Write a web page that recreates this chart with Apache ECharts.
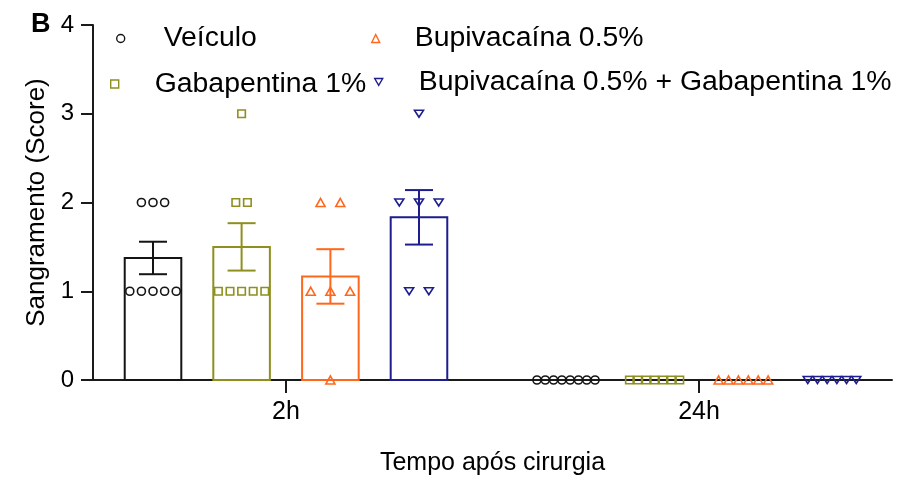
<!DOCTYPE html>
<html>
<head>
<meta charset="utf-8">
<script src="https://cdn.jsdelivr.net/npm/echarts@6/dist/echarts.min.js"></script>
<style>
  html, body { margin: 0; padding: 0; background: #fff; }
  #chart { width: 922px; height: 483px; }
</style>
</head>
<body>
<div id="chart"></div>
<script>
// Time points after surgery (x categories)
const timePoints = ['2h', '24h'];

// Treatment groups, in bar order
const groupNames = ['Veículo', 'Gabapentina 1%', 'Bupivacaína 0.5%', 'Bupivacaína 0.5% + Gabapentina 1%'];

// Individual bleeding scores per animal: [2h, 24h]
const veiculoScores = [[2, 2, 2, 1, 1, 1, 1, 1], [0, 0, 0, 0, 0, 0, 0, 0]];
const gabapentinaScores = [[3, 2, 2, 1, 1, 1, 1, 1], [0, 0, 0, 0, 0, 0, 0]];
const bupivacainaScores = [[2, 2, 1, 1, 1, 0], [0, 0, 0, 0, 0, 0]];
const associacaoScores = [[3, 2, 2, 2, 1, 1], [0, 0, 0, 0, 0, 0]];

// Group means and standard errors: [2h, 24h]
const veiculoMean = [1.375, 0];
const veiculoSem = [0.183, 0];
const gabapentinaMean = [1.5, 0];
const gabapentinaSem = [0.267, 0];
const bupivacainaMean = [1.167, 0];
const bupivacainaSem = [0.307, 0];
const associacaoMean = [1.833, 0];
const associacaoSem = [0.307, 0];

// Y axis ticks
const yTicks = [0, 1, 2, 3, 4];

const scores = [veiculoScores, gabapentinaScores, bupivacainaScores, associacaoScores];
const means = [veiculoMean, gabapentinaMean, bupivacainaMean, associacaoMean];
const sems = [veiculoSem, gabapentinaSem, bupivacainaSem, associacaoSem];

// ---- styling / layout ----
const FONT = 'Liberation Sans, Arial, Helvetica, sans-serif';
const colors = ['#141414', '#8f8f1f', '#ff671c', '#1d1d8f'];
const slot = [-0.322, -0.1075, 0.1075, 0.322];   // bar offset within a time group (axis units)
const barW = 0.137;                              // bar width (axis units)
const spread = [[11.6, 8.3], [11.6, 8.4], [19.7, 9.9], [19.7, 9.7]]; // px between side-by-side dots
const symbols = ['circle', 'rect', 'triangle', 'path://M0,0L10,0L5,8.66Z'];
const symSizes = [8, 7.5, [9, 8], [9, 8]];

function pointData(vals2, k) {
  const out = [];
  vals2.forEach((vals, g) => {
    const levels = {};
    vals.forEach(v => { (levels[v] = levels[v] || []).push(v); });
    Object.keys(levels).forEach(lv => {
      const arr = levels[lv];
      const n = arr.length;
      arr.forEach((v, i) => {
        out.push({
          value: [g + slot[k], v],
          symbolOffset: [(i - (n - 1) / 2) * spread[k][g], 0]
        });
      });
    });
  });
  return out;
}

const series = [];

// Bars (white fill, coloured outline)
groupNames.forEach((name, k) => {
  series.push({
    type: 'custom',
    z: 2,
    silent: true,
    data: means[k].map((m, g) => [g + slot[k], m]),
    renderItem: (params, api) => {
      const x = api.value(0), m = api.value(1);
      if (!m) return null;
      const p0 = api.coord([x - barW / 2, m]);
      const p1 = api.coord([x + barW / 2, 0]);
      return {
        type: 'rect',
        shape: { x: p0[0], y: p0[1], width: p1[0] - p0[0], height: p1[1] - p0[1] },
        style: { fill: '#ffffff', stroke: colors[k], lineWidth: 2 }
      };
    }
  });
});

// Error bars (mean ± SEM)
groupNames.forEach((name, k) => {
  series.push({
    type: 'custom',
    z: 3,
    silent: true,
    data: means[k].map((m, g) => [g + slot[k], m, sems[k][g]]),
    renderItem: (params, api) => {
      const x = api.value(0), m = api.value(1), s = api.value(2);
      if (!s) return null;
      const top = api.coord([x, m + s]);
      const bot = api.coord([x, m - s]);
      const hw = 14;
      const st = { stroke: colors[k], lineWidth: 2 };
      return {
        type: 'group',
        children: [
          { type: 'line', shape: { x1: top[0], y1: top[1], x2: bot[0], y2: bot[1] }, style: st },
          { type: 'line', shape: { x1: top[0] - hw, y1: top[1], x2: top[0] + hw, y2: top[1] }, style: st },
          { type: 'line', shape: { x1: bot[0] - hw, y1: bot[1], x2: bot[0] + hw, y2: bot[1] }, style: st }
        ]
      };
    }
  });
});

// Individual animals
groupNames.forEach((name, k) => {
  series.push({
    name: name,
    type: 'scatter',
    z: 5,
    symbol: symbols[k],
    symbolSize: symSizes[k],
    symbolKeepAspect: true,
    itemStyle: { color: 'rgba(0,0,0,0)', borderColor: colors[k], borderWidth: 1.6, opacity: 1 },
    data: pointData(scores[k], k)
  });
});

function legendFor(name, k, left, top, padLeft) {
  return {
    data: [name],
    left: left,
    top: top,
    padding: 0,
    itemWidth: 8,
    itemHeight: 8,
    selectedMode: false,
    itemStyle: { color: 'rgba(0,0,0,0)', borderColor: colors[k], borderWidth: 1.4 },
    textStyle: { fontFamily: FONT, fontSize: 28.4, color: '#000', lineHeight: 28, padding: [0, 0, 0, padLeft] }
  };
}

const option = {
  animation: false,
  backgroundColor: '#ffffff',
  title: {
    text: 'B',
    left: 31,
    top: 11,
    padding: 0,
    textStyle: { fontFamily: FONT, fontSize: 27, fontWeight: 'bold', color: '#000' }
  },
  legend: [
    legendFor(groupNames[0], 0, 116, 24.5, 34),
    legendFor(groupNames[2], 2, 371, 24.5, 30),
    legendFor(groupNames[1], 1, 110, 70, 31),
    legendFor(groupNames[3], 3, 374, 68, 31)
  ],
  grid: { left: 93, right: 30, top: 25, bottom: 103, containLabel: false },
  xAxis: {
    type: 'value',
    min: -0.4673,
    max: 1.4673,
    name: 'Tempo após cirurgia',
    nameLocation: 'middle',
    nameGap: 71,
    nameTextStyle: { fontFamily: FONT, fontSize: 25, color: '#000' },
    axisLine: { show: true, onZero: false, lineStyle: { color: '#1a1a1a', width: 2 } },
    axisTick: { show: true, customValues: [0, 1], length: 13, lineStyle: { color: '#1a1a1a', width: 2 } },
    axisLabel: {
      customValues: [0, 1],
      margin: 20,
      fontFamily: FONT, fontSize: 25, color: '#000',
      formatter: v => timePoints[Math.round(v)]
    },
    splitLine: { show: false }
  },
  yAxis: {
    type: 'value',
    min: yTicks[0],
    max: yTicks[yTicks.length - 1],
    interval: 1,
    name: 'Sangramento (Score)',
    nameLocation: 'middle',
    nameGap: 43,
    nameTextStyle: { fontFamily: FONT, fontSize: 26, color: '#000' },
    axisLine: { show: true, onZero: false, lineStyle: { color: '#1a1a1a', width: 2 } },
    axisTick: { show: true, length: 12, lineStyle: { color: '#1a1a1a', width: 2 } },
    axisLabel: { margin: 19, fontFamily: FONT, fontSize: 24, color: '#000' },
    splitLine: { show: false }
  },
  series: series
};

const chart = echarts.init(document.getElementById('chart'), null, { renderer: 'canvas' });
chart.setOption(option);
</script>
</body>
</html>
